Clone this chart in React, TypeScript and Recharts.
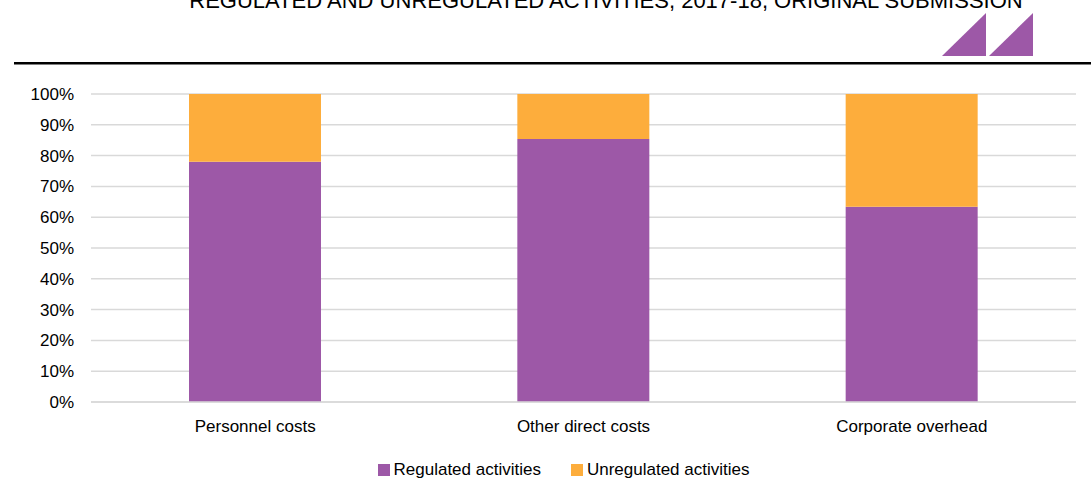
import React from 'react';
import { BarChart, Bar, XAxis, YAxis, CartesianGrid } from 'recharts';

const categories = ['Personnel costs', 'Other direct costs', 'Corporate overhead'];
const regulated = [0.78, 0.854, 0.634];
const unregulated = [0.22, 0.146, 0.366];
const yTicks = [0, 0.1, 0.2, 0.3, 0.4, 0.5, 0.6, 0.7, 0.8, 0.9, 1];
const seriesNames = ['Regulated activities', 'Unregulated activities'];
const title = 'REGULATED AND UNREGULATED ACTIVITIES, 2017-18, ORIGINAL SUBMISSION';

const data = categories.map((c, i) => ({ name: c, regulated: regulated[i], unregulated: unregulated[i] }));

const FONT = '"Liberation Sans", Arial, sans-serif';
const PURPLE = '#9d58a7';
const ORANGE = '#fdad3c';
const seriesColors = [PURPLE, ORANGE];

export default function App() {
  return (
    <div style={{ position: 'absolute', left: 0, top: 0, width: 1091, height: 483, background: '#fff' }}>
      <svg width={1091} height={483} style={{ position: 'absolute', left: 0, top: 0 }}>
        <text x={606} y={8} textAnchor="middle" fontFamily={FONT} fontSize={22} fill="#000">{title}</text>
        <polygon points="942,56 986,56 986,13" fill={PURPLE} />
        <polygon points="989,56 1033,56 1033,13" fill={PURPLE} />
        <rect x={14} y={62} width={1077} height={2.5} fill="#000" />
      </svg>
      <div style={{ position: 'absolute', left: 0, top: 0 }}>
        <BarChart width={1091} height={483} data={data} margin={{ top: 94, right: 15, bottom: 51, left: 0 }}>
          <CartesianGrid vertical={false} stroke="#d9d9d9" strokeWidth={1.5} />
          <XAxis
            dataKey="name"
            height={30}
            tickLine={false}
            axisLine={{ stroke: '#d9d9d9', strokeWidth: 1.5 }}
            tick={{ fontFamily: FONT, fontSize: 17, fill: '#000' }}
            tickMargin={12}
          />
          <YAxis
            width={91}
            domain={[0, 1]}
            ticks={yTicks}
            tickFormatter={(v: number) => `${Math.round(v * 100)}%`}
            tickLine={false}
            axisLine={false}
            tick={{ fontFamily: FONT, fontSize: 17, fill: '#000' }}
            tickMargin={11}
            interval={0}
          />
          <Bar dataKey="regulated" name={seriesNames[0]} stackId="a" fill={PURPLE} barSize={132} isAnimationActive={false} />
          <Bar dataKey="unregulated" name={seriesNames[1]} stackId="a" fill={ORANGE} barSize={132} isAnimationActive={false} />
        </BarChart>
      </div>
      <div
        style={{
          position: 'absolute',
          left: 18,
          top: 459,
          width: 1091,
          display: 'flex',
          justifyContent: 'center',
          fontFamily: FONT,
          fontSize: 17,
          color: '#000',
          lineHeight: '22px',
        }}
      >
        {seriesNames.map((n, i) => (
          <div key={n} style={{ display: 'flex', alignItems: 'center', marginLeft: i === 0 ? 0 : 30 }}>
            <div style={{ width: 12, height: 12, background: seriesColors[i], marginRight: 4 }} />
            <span>{n}</span>
          </div>
        ))}
      </div>
    </div>
  );
}
